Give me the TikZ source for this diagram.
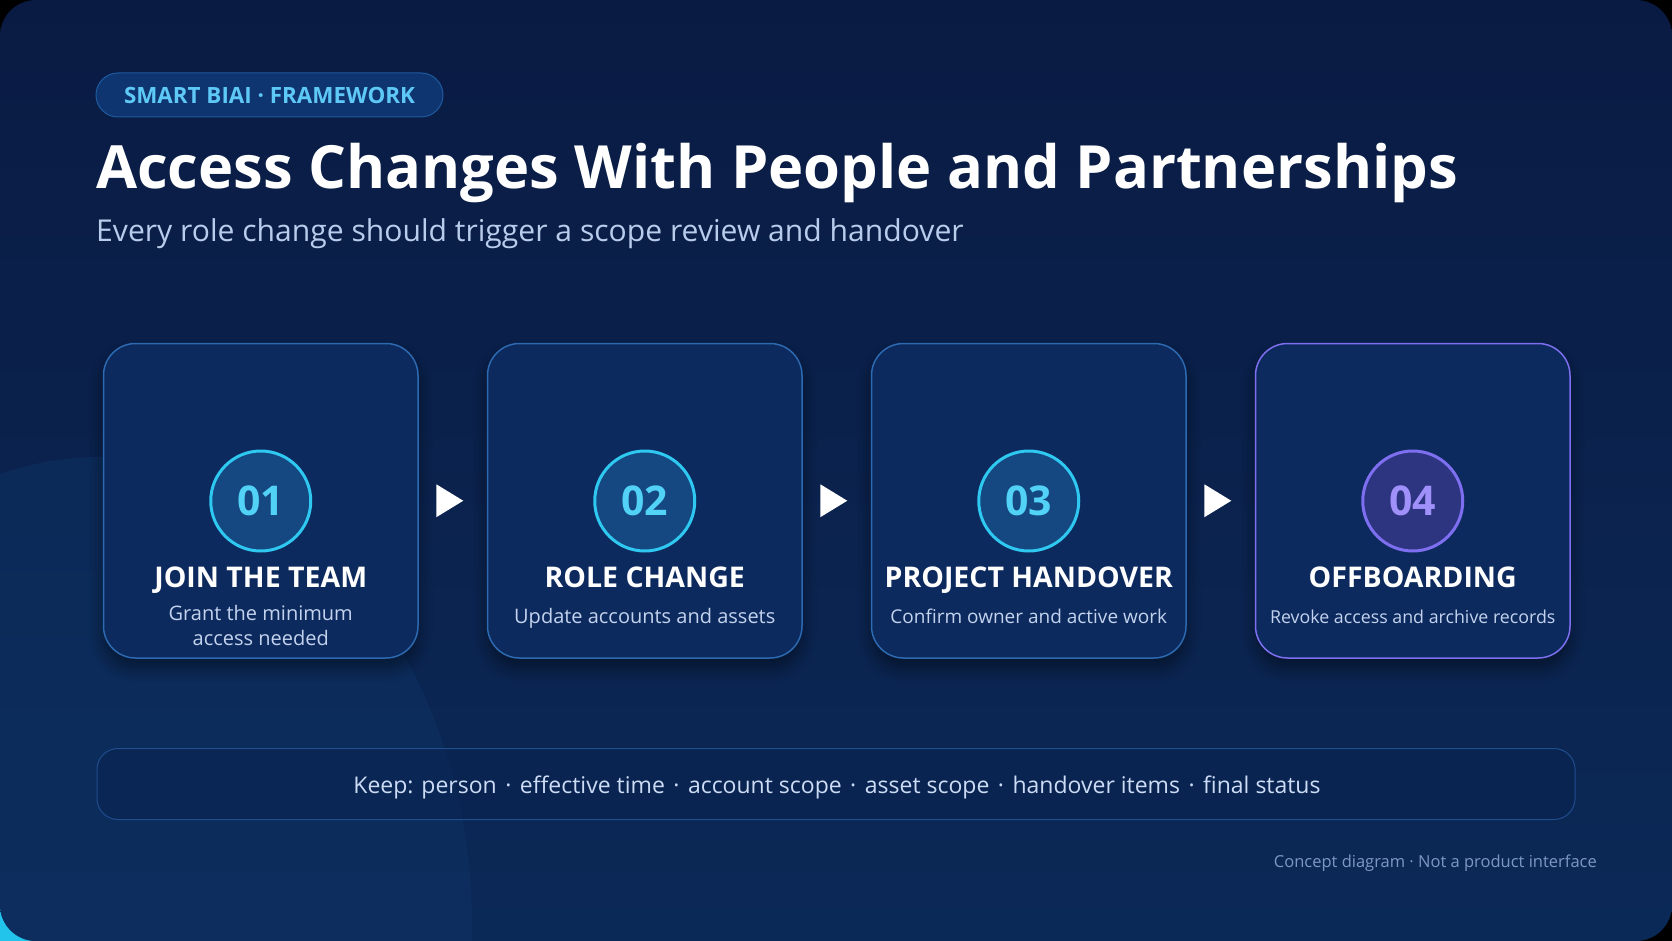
\documentclass[tikz,border=0pt]{standalone}
\usepackage{fontspec}
\setmainfont{Open Sans}
\usetikzlibrary{calc,shadows.blur}
\definecolor{bgtop}{HTML}{0A1B43}
\definecolor{bgbot}{HTML}{0B2957}
\definecolor{blob}{HTML}{0E3466}
\definecolor{cardfill}{HTML}{0D2A5E}
\definecolor{cardline}{HTML}{2C69B0}
\definecolor{purpline}{HTML}{7D6FF0}
\definecolor{cyanline}{HTML}{2EC8F0}
\definecolor{circfill}{HTML}{154780}
\definecolor{purpfill}{HTML}{2E3580}
\definecolor{numcyan}{HTML}{52D2F7}
\definecolor{numpurp}{HTML}{A090FA}
\definecolor{subtxt}{HTML}{C3D3EE}
\definecolor{subtitle}{HTML}{B9CCEC}
\definecolor{barfill}{HTML}{0A2350}
\definecolor{barline}{HTML}{1F4D8E}
\definecolor{keeptxt}{HTML}{CDDCF5}
\definecolor{foottxt}{HTML}{7E97C2}
\definecolor{pillfill}{HTML}{0F3570}
\definecolor{pillline}{HTML}{1E5AA0}
\definecolor{pilltxt}{HTML}{5EC9F6}
\definecolor{glow}{HTML}{22C4EC}
\newcommand{\dotsep}{\hspace{8.5pt}·\hspace{8.5pt}}
\tikzset{
  card/.style={draw=cardline, line width=1.5pt, fill=cardfill, rounded corners=32pt,
    minimum width=314.5pt, minimum height=314.5pt, inner sep=0pt,
    blur shadow={shadow blur steps=10, shadow xshift=0pt, shadow yshift=-10pt, shadow opacity=45, shadow blur radius=14pt}},
  lastcard/.style={card, draw=purpline},
  numcirc/.style={circle, draw=cyanline, line width=3pt, fill=circfill, minimum size=100pt, inner sep=0pt,
    text=numcyan, font=\fontsize{41}{41}\selectfont\bfseries},
  lastcirc/.style={numcirc, draw=purpline, fill=purpfill, text=numpurp},
  head/.style={anchor=base, inner sep=0pt, text=white, font=\fontsize{28.5}{34}\selectfont\bfseries},
  subt/.style={anchor=base, inner sep=0pt, text=subtxt, font=\fontsize{20}{24}\selectfont},
}
\begin{document}
\begin{tikzpicture}[x=1pt,y=-1pt]
\useasboundingbox (0,0) rectangle (1672,941);
% outer backdrop
\fill[black] (0,0) rectangle (1672,941);
\fill[glow] (0,941) circle[radius=60];
% panel
\begin{scope}
\clip[rounded corners=36pt] (0,0) rectangle (1672,941);
\shade[top color=bgtop, bottom color=bgbot] (0,0) rectangle (1672,941);
\fill[blob, opacity=0.45] (100,925) ellipse[x radius=372, y radius=468];
\end{scope}
% tag pill
\node[draw=pillline, line width=1pt, fill=pillfill, rounded corners=22pt, minimum width=347pt, minimum height=44pt,
  text=pilltxt, font=\fontsize{22.4}{22}\selectfont\bfseries] (tag) at (269.5,95) {SMART BIAI · FRAMEWORK};
% title and subtitle
\node[anchor=base west, inner sep=0pt, text=white, font=\fontsize{59.6}{70}\selectfont\bfseries] (title) at (96,189)
  {Access Changes With People and Partnerships};
\node[anchor=base west, inner sep=0pt, text=subtitle, font=\fontsize{30.1}{36}\selectfont] (subtitle) at (96,242)
  {Every role change should trigger a scope review and handover};
% cards
\node[card] (c1) at (260.75,500.75) {};
\node[card] (c2) at (644.75,500.75) {};
\node[card] (c3) at (1028.75,500.75) {};
\node[lastcard] (c4) at (1412.75,500.75) {};
\node[numcirc] (n1) at (260.75,501) {01};
\node[numcirc] (n2) at (644.75,501) {02};
\node[numcirc] (n3) at (1028.75,501) {03};
\node[lastcirc] (n4) at (1412.75,501) {04};
\node[head] (h1) at (260.75,587) {JOIN THE TEAM};
\node[head] (h2) at (644.75,587) {ROLE CHANGE};
\node[head] (h3) at (1028.75,587) {PROJECT HANDOVER};
\node[head] (h4) at (1412.75,587) {OFFBOARDING};
\node[subt] (s1a) at (260.75,620) {Grant the minimum};
\node[subt] (s1b) at (260.75,645) {access needed};
\node[subt] (s2) at (644.75,623) {Update accounts and assets};
\node[subt, font=\fontsize{19}{24}\selectfont] (s3) at (1028.75,623) {Confirm owner and active work};
\node[subt, font=\fontsize{17.8}{24}\selectfont] (s4) at (1412.75,623) {Revoke access and archive records};
% arrows between cards
\foreach \a/\b in {c1/c2,c2/c3,c3/c4}{
  \coordinate (m) at ($(\a.east)!0.5!(\b.west)+(-3,0)$);
  \fill[white] ($(m)+(-13.5,-16.5)$) -- ($(m)+(13.5,0)$) -- ($(m)+(-13.5,16.5)$) -- cycle;
}
% bottom bar
\node[draw=barline, line width=1pt, fill=barfill, fill opacity=0.6, draw opacity=1, rounded corners=21pt,
  minimum width=1478pt, minimum height=71pt] (bar) at (836,784) {};
\node[anchor=base, inner sep=0pt, text=keeptxt, font=\fontsize{23}{28}\selectfont] (keep) at (837,793)
  {Keep: person\dotsep effective time\dotsep account scope\dotsep asset scope\dotsep handover items\dotsep final status};
\node[anchor=base east, inner sep=0pt, text=foottxt, font=\fontsize{16.5}{20}\selectfont] (foot) at (1597,867)
  {Concept diagram · Not a product interface};
\end{tikzpicture}
\end{document}
